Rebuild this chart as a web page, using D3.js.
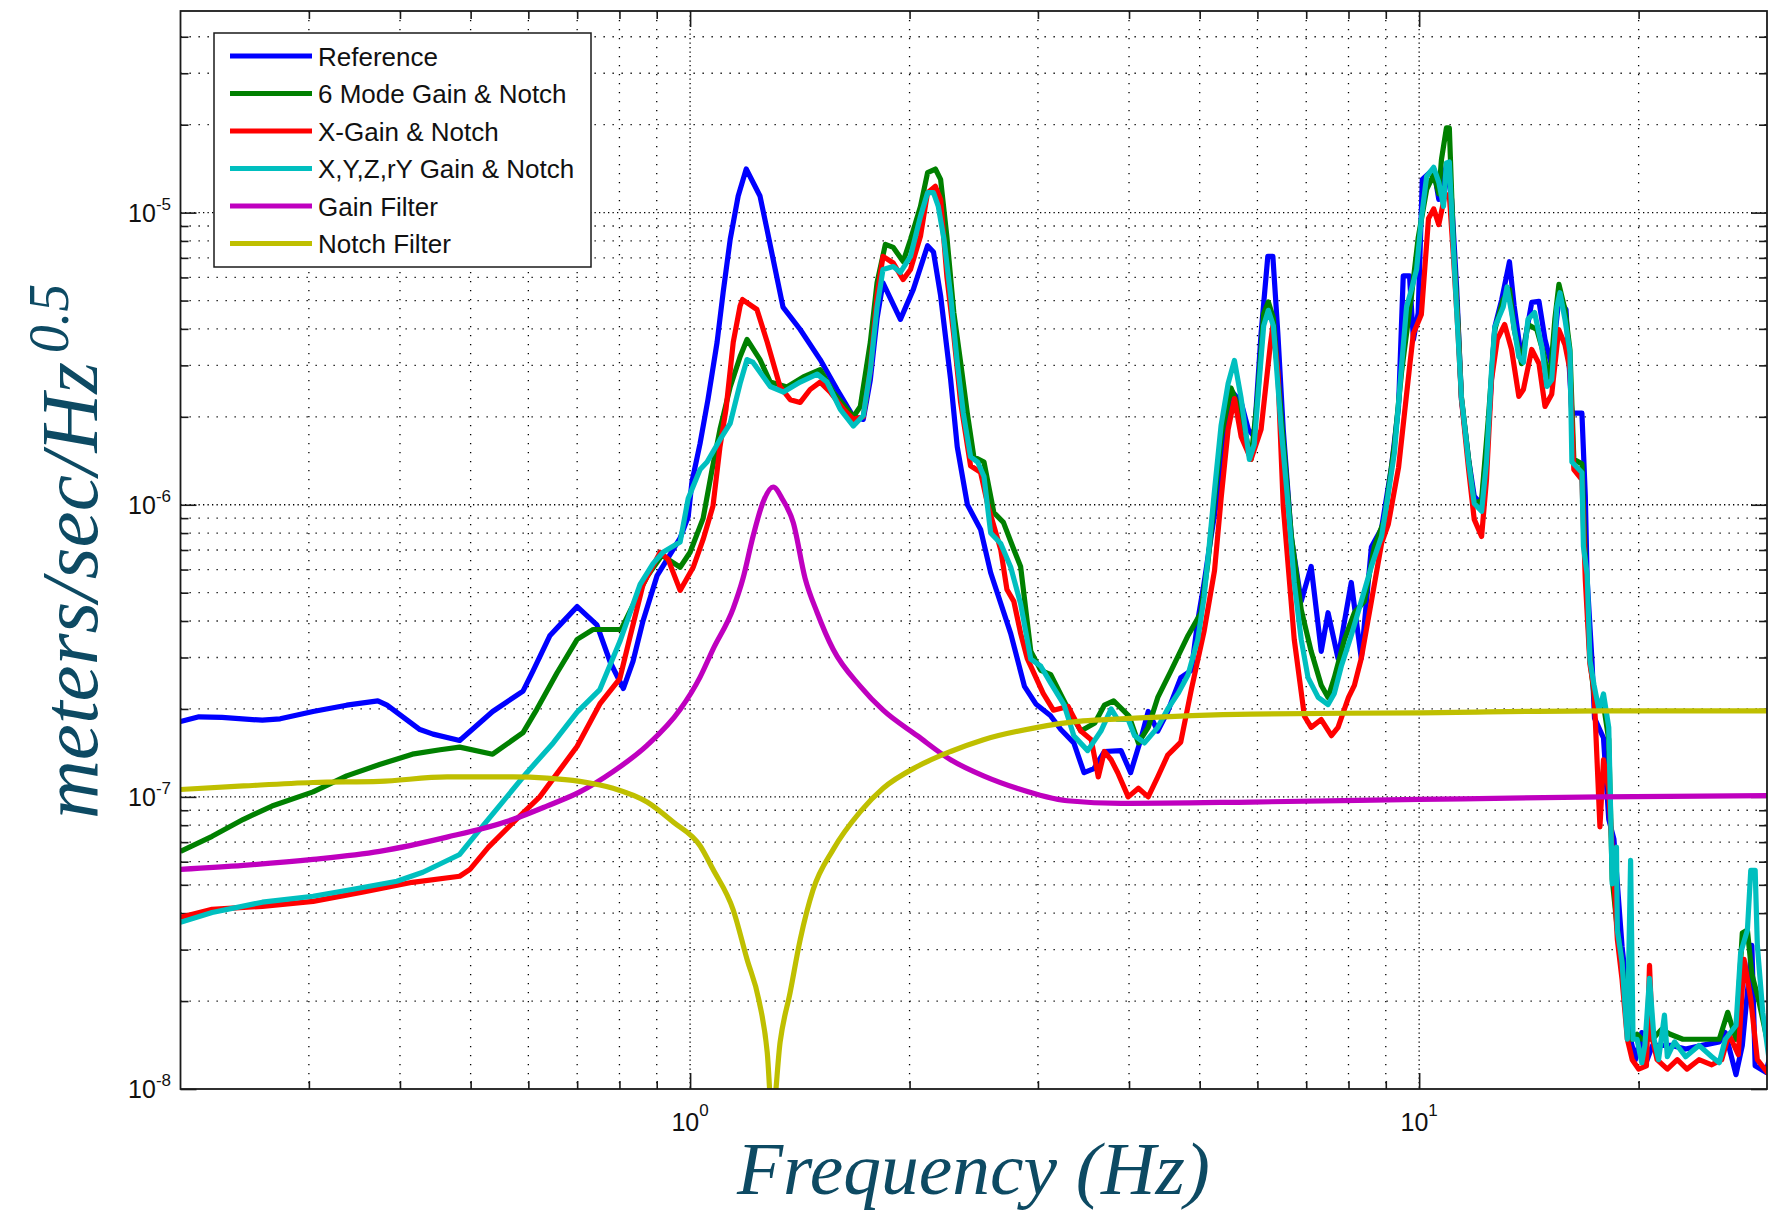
<!DOCTYPE html>
<html><head><meta charset="utf-8">
<script src="https://cdn.jsdelivr.net/npm/d3@7"></script>
<style>
body{margin:0;background:#fff}
.gmin{stroke:#000;stroke-width:1.3;stroke-dasharray:1.3 7.7;fill:none}
.gmaj{stroke:#000;stroke-width:1.3;stroke-dasharray:1.3 3.2;fill:none}
.tick{stroke:#1a1a1a;stroke-width:1.6}
.lbl{font-family:"Liberation Sans",Arial,sans-serif;fill:#111}
.ttl{font-family:"Liberation Serif","DejaVu Serif",serif;font-style:italic;fill:#0d4a63}
</style>
</head><body>
<svg id="chart" width="1768" height="1215"></svg>
<script>
// ---------- data ----------
const seriesNames = ["Reference","6 Mode Gain & Notch","X-Gain & Notch","X,Y,Z,rY Gain & Notch","Gain Filter","Notch Filter"];
const seriesColors = ["#0000ff","#008000","#ff0000","#00bfbf","#bf00bf","#bfbf00"];

const referenceData = [[0.2,1.81e-7],[0.212,1.88e-7],[0.228,1.87e-7],[0.259,1.83e-7],[0.274,1.85e-7],[0.304,1.96e-7],[0.338,2.06e-7],[0.373,2.13e-7],[0.384,2.06e-7],[0.426,1.70e-7],[0.444,1.64e-7],[0.483,1.56e-7],[0.536,1.96e-7],[0.590,2.30e-7],[0.609,2.70e-7],[0.642,3.56e-7],[0.663,3.88e-7],[0.700,4.48e-7],[0.745,3.88e-7],[0.777,2.89e-7],[0.810,2.35e-7],[0.835,2.91e-7],[0.862,4.01e-7],[0.901,5.72e-7],[0.930,6.50e-7],[0.969,7.69e-7],[0.994,9.1e-7],[1.006,1.20e-6],[1.032,1.62e-6],[1.058,2.29e-6],[1.089,3.60e-6],[1.110,5.33e-6],[1.135,8.09e-6],[1.164,1.14e-5],[1.194,1.41e-5],[1.247,1.14e-5],[1.275,8.75e-6],[1.341,4.75e-6],[1.416,3.98e-6],[1.508,3.14e-6],[1.591,2.48e-6],[1.675,2.00e-6],[1.728,1.96e-6],[1.767,2.68e-6],[1.805,4.35e-6],[1.839,5.75e-6],[1.943,4.31e-6],[2.024,5.46e-6],[2.117,7.70e-6],[2.157,7.33e-6],[2.206,5.20e-6],[2.277,2.68e-6],[2.325,1.58e-6],[2.401,1.0e-6],[2.503,8.23e-7],[2.584,5.85e-7],[2.753,3.62e-7],[2.875,2.39e-7],[2.98,2.08e-7],[3.12,1.90e-7],[3.225,1.70e-7],[3.36,1.53e-7],[3.47,1.21e-7],[3.58,1.25e-7],[3.70,1.43e-7],[3.90,1.44e-7],[4.02,1.21e-7],[4.15,1.57e-7],[4.25,1.96e-7],[4.38,1.68e-7],[4.52,1.96e-7],[4.71,2.56e-7],[4.87,2.71e-7],[4.97,4.01e-7],[5.07,5.40e-7],[5.18,7.69e-7],[5.30,1.11e-6],[5.41,1.81e-6],[5.52,2.46e-6],[5.70,2.24e-6],[5.83,1.81e-6],[5.94,1.71e-6],[6.07,3.86e-6],[6.20,7.08e-6],[6.30,7.08e-6],[6.40,3.86e-6],[6.51,1.81e-6],[6.68,7.69e-7],[6.89,4.67e-7],[7.11,6.15e-7],[7.34,3.15e-7],[7.50,4.27e-7],[7.74,2.98e-7],[8.07,5.42e-7],[8.33,2.98e-7],[8.60,7.17e-7],[8.88,8.30e-7],[9.16,1.34e-6],[9.37,2.17e-6],[9.51,6.07e-6],[9.70,6.07e-6],[9.82,3.68e-6],[9.97,4.53e-6],[10.1,1.30e-5],[10.47,1.41e-5],[10.64,1.11e-5],[10.9,1.45e-5],[11.08,1.11e-5],[11.26,5.46e-6],[11.43,2.29e-6],[11.69,1.43e-6],[11.9,1.07e-6],[12.18,1.0e-6],[12.44,1.81e-6],[12.7,4.06e-6],[12.98,5.04e-6],[13.3,6.79e-6],[13.5,4.79e-6],[13.82,3.14e-6],[14.27,4.93e-6],[14.6,4.97e-6],[14.88,3.68e-6],[15.2,2.98e-6],[15.54,5.04e-6],[15.9,4.66e-6],[16.2,2.06e-6],[16.72,2.06e-6],[16.9,1.07e-6],[17.0,5.55e-7],[17.26,2.93e-7],[17.4,1.86e-7],[17.9,1.59e-7],[18.2,8.38e-8],[18.5,7.16e-8],[18.7,5.04e-8],[18.98,3.08e-8],[19.2,2.37e-8],[19.4,1.56e-8],[19.8,1.26e-8],[20.2,1.56e-8],[20.4,1.20e-8],[20.9,1.41e-8],[22.2,1.41e-8],[23.2,1.37e-8],[24.45,1.41e-8],[25.8,1.45e-8],[26.3,1.56e-8],[27.2,1.12e-8],[27.75,1.41e-8],[28.6,3.1e-8],[28.9,1.2e-8],[29.9,1.14e-8],[30.2,1.26e-8]];

const sixModeData = [[0.2,6.51e-8],[0.221,7.33e-8],[0.244,8.38e-8],[0.267,9.3e-8],[0.304,1.04e-7],[0.338,1.18e-7],[0.375,1.29e-7],[0.416,1.40e-7],[0.454,1.45e-7],[0.483,1.48e-7],[0.536,1.40e-7],[0.590,1.66e-7],[0.616,1.99e-7],[0.657,2.66e-7],[0.700,3.46e-7],[0.736,3.74e-7],[0.804,3.74e-7],[0.846,4.85e-7],[0.873,5.68e-7],[0.915,6.71e-7],[0.969,6.11e-7],[1.0,6.88e-7],[1.042,8.98e-7],[1.07,1.29e-6],[1.099,1.81e-6],[1.135,2.53e-6],[1.171,3.21e-6],[1.197,3.68e-6],[1.247,3.14e-6],[1.288,2.63e-6],[1.358,2.53e-6],[1.43,2.74e-6],[1.508,2.90e-6],[1.571,2.43e-6],[1.675,2.00e-6],[1.712,2.17e-6],[1.767,3.60e-6],[1.805,5.76e-6],[1.853,7.79e-6],[1.90,7.60e-6],[1.96,6.80e-6],[2.006,8.09e-6],[2.07,1.05e-5],[2.117,1.37e-5],[2.17,1.41e-5],[2.206,1.30e-5],[2.25,8.28e-6],[2.30,4.55e-6],[2.35,3.07e-6],[2.40,2.06e-6],[2.45,1.46e-6],[2.53,1.40e-6],[2.61,9.4e-7],[2.69,8.7e-7],[2.78,7.03e-7],[2.84,6.15e-7],[2.933,3.15e-7],[3.027,2.71e-7],[3.124,2.62e-7],[3.30,2.0e-7],[3.435,1.68e-7],[3.59,1.79e-7],[3.70,2.06e-7],[3.81,2.13e-7],[4.0,1.89e-7],[4.12,1.53e-7],[4.25,1.73e-7],[4.38,2.19e-7],[4.57,2.71e-7],[4.82,3.57e-7],[5.02,4.27e-7],[5.13,6.30e-7],[5.24,1.05e-6],[5.35,1.71e-6],[5.52,2.51e-6],[5.70,2.05e-6],[5.88,1.43e-6],[6.0,2.31e-6],[6.12,4.51e-6],[6.21,4.95e-6],[6.31,4.36e-6],[6.47,1.99e-6],[6.68,7.79e-7],[6.89,4.38e-7],[7.11,3.15e-7],[7.34,2.41e-7],[7.50,2.19e-7],[7.65,2.56e-7],[7.90,3.46e-7],[8.15,4.27e-7],[8.41,4.67e-7],[8.68,7.17e-7],[8.96,8.9e-7],[9.25,1.61e-6],[9.46,2.85e-6],[9.76,5.2e-6],[9.97,8.2e-6],[10.24,1.20e-5],[10.47,1.35e-5],[10.64,1.16e-5],[10.73,1.52e-5],[10.9,1.95e-5],[11.0,1.95e-5],[11.15,7.48e-6],[11.3,4.31e-6],[11.43,2.33e-6],[11.69,1.43e-6],[11.9,1.0e-6],[12.18,1.04e-6],[12.44,1.96e-6],[12.7,3.98e-6],[13.04,5.04e-6],[13.3,5.46e-6],[13.5,3.98e-6],[13.82,3.04e-6],[14.1,4.14e-6],[14.5,3.98e-6],[14.83,3.26e-6],[15.1,2.58e-6],[15.35,4.31e-6],[15.55,5.68e-6],[15.85,4.66e-6],[16.1,3.40e-6],[16.3,1.43e-6],[16.72,1.38e-6],[16.9,6.50e-7],[17.15,2.96e-7],[17.4,2.16e-7],[17.9,2.07e-7],[18.2,1.57e-7],[18.4,5.22e-8],[18.7,3.52e-8],[18.98,2.71e-8],[19.3,1.6e-8],[19.6,1.48e-8],[19.9,1.54e-8],[20.2,1.48e-8],[20.9,1.48e-8],[21.5,1.6e-8],[22.1,1.54e-8],[23.0,1.48e-8],[24.2,1.48e-8],[25.2,1.48e-8],[25.8,1.48e-8],[26.5,1.83e-8],[27.2,1.48e-8],[27.75,3.42e-8],[28.2,3.50e-8],[28.6,2.47e-8],[29.2,2.03e-8],[30.2,1.37e-8]];

const xGainData = [[0.2,3.87e-8],[0.221,4.12e-8],[0.259,4.22e-8],[0.304,4.39e-8],[0.355,4.72e-8],[0.416,5.10e-8],[0.483,5.35e-8],[0.499,5.65e-8],[0.529,6.73e-8],[0.572,8.18e-8],[0.622,1.0e-7],[0.663,1.24e-7],[0.700,1.49e-7],[0.752,2.08e-7],[0.801,2.54e-7],[0.827,3.52e-7],[0.862,5.34e-7],[0.910,6.88e-7],[0.933,6.50e-7],[0.969,5.09e-7],[1.01,6.11e-7],[1.042,7.61e-7],[1.075,9.9e-7],[1.099,1.58e-6],[1.12,2.12e-6],[1.146,3.60e-6],[1.171,4.79e-6],[1.18,5.04e-6],[1.235,4.66e-6],[1.276,3.60e-6],[1.329,2.53e-6],[1.372,2.29e-6],[1.416,2.24e-6],[1.461,2.48e-6],[1.508,2.63e-6],[1.557,2.43e-6],[1.624,2.12e-6],[1.675,1.96e-6],[1.728,2.0e-6],[1.767,2.90e-6],[1.805,5.20e-6],[1.839,7.08e-6],[1.90,6.72e-6],[1.96,5.90e-6],[2.006,6.39e-6],[2.07,8.3e-6],[2.117,1.17e-5],[2.17,1.23e-5],[2.206,1.11e-5],[2.25,6.05e-6],[2.30,3.79e-6],[2.35,2.24e-6],[2.425,1.36e-6],[2.503,1.29e-6],[2.56,1.0e-6],[2.667,7.03e-7],[2.72,5.13e-7],[2.78,4.67e-7],[2.841,3.62e-7],[2.90,2.98e-7],[3.05,2.26e-7],[3.15,1.98e-7],[3.30,2.04e-7],[3.435,1.68e-7],[3.55,1.57e-7],[3.63,1.17e-7],[3.70,1.43e-7],[3.78,1.34e-7],[3.86,1.21e-7],[3.99,1.0e-7],[4.12,1.07e-7],[4.25,1.0e-7],[4.38,1.17e-7],[4.52,1.39e-7],[4.71,1.54e-7],[4.87,2.33e-7],[5.07,3.69e-7],[5.24,5.95e-7],[5.35,1.05e-6],[5.47,1.81e-6],[5.58,2.31e-6],[5.70,1.71e-6],[5.88,1.43e-6],[6.07,1.81e-6],[6.25,3.53e-6],[6.30,4.10e-6],[6.40,2.85e-6],[6.51,9.9e-7],[6.74,3.46e-7],[6.96,1.89e-7],[7.11,1.73e-7],[7.34,1.84e-7],[7.58,1.62e-7],[7.74,1.73e-7],[8.0,2.19e-7],[8.15,2.41e-7],[8.33,2.98e-7],[8.60,4.67e-7],[8.88,7.37e-7],[9.07,8.56e-7],[9.37,1.34e-6],[9.7,2.95e-6],[9.82,3.86e-6],[10.07,4.48e-6],[10.3,9.55e-6],[10.47,1.03e-5],[10.64,9.1e-6],[10.85,1.15e-5],[11.0,1.15e-5],[11.15,6.9e-6],[11.3,3.98e-6],[11.43,2.29e-6],[11.69,1.32e-6],[11.9,8.91e-7],[12.18,7.79e-7],[12.37,1.22e-6],[12.57,2.68e-6],[12.8,3.68e-6],[13.1,4.14e-6],[13.39,3.40e-6],[13.7,2.35e-6],[13.9,2.48e-6],[14.27,3.40e-6],[14.6,3.04e-6],[14.88,2.17e-6],[15.2,2.39e-6],[15.54,3.98e-6],[15.85,3.53e-6],[16.1,2.90e-6],[16.3,1.32e-6],[16.72,1.22e-6],[16.9,5.55e-7],[17.15,2.84e-7],[17.37,2.33e-7],[17.7,7.9e-8],[17.9,1.34e-7],[18.2,1.06e-7],[18.5,5.22e-8],[18.7,3.25e-8],[18.98,2.37e-8],[19.3,1.48e-8],[19.6,1.26e-8],[20.0,1.17e-8],[20.5,1.2e-8],[20.7,2.65e-8],[20.9,1.48e-8],[21.2,1.26e-8],[21.9,1.17e-8],[22.6,1.26e-8],[23.3,1.17e-8],[24.2,1.26e-8],[25.2,1.21e-8],[26.0,1.26e-8],[26.6,1.54e-8],[27.4,1.31e-8],[27.9,2.78e-8],[28.5,2.03e-8],[29.1,1.26e-8],[30.2,1.12e-8]];

const xyzData = [[0.2,3.72e-8],[0.221,4.02e-8],[0.259,4.36e-8],[0.304,4.57e-8],[0.345,4.83e-8],[0.396,5.14e-8],[0.430,5.52e-8],[0.483,6.35e-8],[0.515,7.74e-8],[0.553,9.6e-8],[0.597,1.21e-7],[0.649,1.53e-7],[0.700,1.95e-7],[0.752,2.33e-7],[0.801,3.40e-7],[0.854,5.34e-7],[0.890,6.30e-7],[0.918,6.88e-7],[0.969,7.45e-7],[0.994,1.05e-6],[1.032,1.32e-6],[1.055,1.40e-6],[1.099,1.67e-6],[1.135,1.90e-6],[1.171,2.60e-6],[1.197,3.14e-6],[1.220,3.07e-6],[1.288,2.54e-6],[1.343,2.43e-6],[1.416,2.63e-6],[1.494,2.80e-6],[1.541,2.63e-6],[1.607,2.12e-6],[1.675,1.86e-6],[1.728,2.02e-6],[1.767,2.90e-6],[1.805,4.75e-6],[1.839,6.39e-6],[1.90,6.54e-6],[1.943,6.24e-6],[2.006,7.08e-6],[2.070,9.7e-6],[2.117,1.17e-5],[2.157,1.17e-5],[2.19,1.05e-5],[2.23,8.09e-6],[2.277,5.20e-6],[2.325,3.07e-6],[2.37,2.06e-6],[2.425,1.46e-6],[2.48,1.40e-6],[2.53,1.25e-6],[2.584,8.0e-7],[2.667,7.37e-7],[2.753,6.11e-7],[2.841,4.57e-7],[2.933,2.96e-7],[3.027,2.80e-7],[3.124,2.45e-7],[3.26,2.06e-7],[3.36,1.62e-7],[3.51,1.44e-7],[3.66,1.68e-7],[3.78,2.0e-7],[3.86,1.84e-7],[3.99,1.84e-7],[4.07,1.62e-7],[4.20,1.53e-7],[4.38,1.73e-7],[4.52,2.0e-7],[4.67,2.26e-7],[4.82,2.62e-7],[4.97,3.46e-7],[5.07,4.82e-7],[5.15,7.14e-7],[5.24,1.12e-6],[5.35,1.87e-6],[5.47,2.60e-6],[5.58,3.12e-6],[5.70,2.31e-6],[5.85,1.43e-6],[5.94,1.61e-6],[6.02,2.46e-6],[6.12,4.10e-6],[6.21,4.63e-6],[6.31,4.10e-6],[6.47,1.81e-6],[6.61,1.0e-6],[6.74,5.42e-7],[6.89,3.46e-7],[7.04,2.56e-7],[7.27,2.19e-7],[7.50,2.07e-7],[7.65,2.26e-7],[7.82,2.80e-7],[8.07,3.57e-7],[8.33,4.67e-7],[8.60,6.15e-7],[8.88,7.79e-7],[9.07,1.09e-6],[9.25,1.51e-6],[9.46,2.99e-6],[9.61,4.75e-6],[9.76,5.46e-6],[9.92,6.39e-6],[10.07,9.55e-6],[10.24,1.33e-5],[10.47,1.43e-5],[10.64,1.27e-5],[10.8,1.05e-5],[10.9,1.48e-5],[11.0,1.49e-5],[11.15,7.31e-6],[11.26,4.59e-6],[11.43,2.33e-6],[11.69,1.40e-6],[11.9,1.01e-6],[12.18,9.5e-7],[12.37,1.40e-6],[12.57,2.90e-6],[12.7,4.06e-6],[13.04,4.75e-6],[13.2,5.57e-6],[13.39,4.55e-6],[13.7,3.21e-6],[13.9,3.07e-6],[14.1,4.31e-6],[14.4,4.55e-6],[14.73,3.47e-6],[14.97,2.54e-6],[15.2,2.68e-6],[15.45,4.75e-6],[15.6,5.32e-6],[15.85,4.31e-6],[16.1,3.32e-6],[16.2,1.40e-6],[16.72,1.29e-6],[16.8,7.2e-7],[17.0,5.77e-7],[17.15,2.93e-7],[17.37,2.42e-7],[17.65,1.98e-7],[17.9,2.25e-7],[18.2,1.73e-7],[18.4,5.04e-8],[18.65,6.73e-8],[18.7,3.50e-8],[18.98,2.71e-8],[19.2,1.79e-8],[19.3,1.48e-8],[19.5,6.06e-8],[19.65,1.48e-8],[19.9,1.48e-8],[20.2,1.23e-8],[20.4,1.41e-8],[20.7,2.39e-8],[21.0,1.48e-8],[21.3,1.26e-8],[21.7,1.79e-8],[21.9,1.29e-8],[22.4,1.45e-8],[23.2,1.29e-8],[24.2,1.41e-8],[25.2,1.29e-8],[25.8,1.23e-8],[26.3,1.48e-8],[27.2,1.65e-8],[27.6,2.92e-8],[28.2,3.50e-8],[28.5,5.6e-8],[28.9,5.6e-8],[29.1,3.1e-8],[29.6,1.83e-8],[30.2,1.26e-8]];

const gainFilterData = [[0.2,5.65e-8],[0.244,5.83e-8],[0.304,6.11e-8],[0.375,6.51e-8],[0.464,7.28e-8],[0.572,8.38e-8],[0.636,9.3e-8],[0.706,1.04e-7],[0.784,1.22e-7],[0.873,1.50e-7],[0.969,1.99e-7],[1.032,2.57e-7],[1.075,3.20e-7],[1.146,4.42e-7],[1.182,5.6e-7],[1.22,7.8e-7],[1.259,1.02e-6],[1.30,1.15e-6],[1.34,1.04e-6],[1.385,8.7e-7],[1.438,5.6e-7],[1.494,4.27e-7],[1.571,3.20e-7],[1.712,2.39e-7],[1.840,1.98e-7],[2.049,1.62e-7],[2.277,1.34e-7],[2.526,1.18e-7],[2.808,1.07e-7],[3.29,9.7e-8],[3.90,9.5e-8],[5.88,9.6e-8],[10.0,9.8e-8],[17.8,1.0e-7],[30.2,1.01e-7]];

const notchFilterData = [[0.2,1.06e-7],[0.244,1.09e-7],[0.304,1.12e-7],[0.375,1.13e-7],[0.464,1.17e-7],[0.572,1.17e-7],[0.636,1.16e-7],[0.706,1.13e-7],[0.784,1.07e-7],[0.873,9.6e-8],[0.948,8.2e-8],[1.032,6.8e-8],[1.075,5.65e-8],[1.146,4.1e-8],[1.197,2.78e-8],[1.243,2.01e-8],[1.276,1.33e-8],[1.296,8.0e-9],[1.329,1.45e-8],[1.372,2.15e-8],[1.416,3.25e-8],[1.474,4.79e-8],[1.571,6.6e-8],[1.712,8.9e-8],[1.840,1.07e-7],[2.049,1.27e-7],[2.277,1.43e-7],[2.526,1.57e-7],[2.96,1.72e-7],[3.46,1.82e-7],[3.90,1.85e-7],[5.88,1.92e-7],[10.0,1.94e-7],[17.8,1.97e-7],[30.2,1.97e-7]];

const xMajorTicks = [1, 10];
const xMajorExp = ["0", "1"];
const xMinorTicks = [0.3,0.4,0.5,0.6,0.7,0.8,0.9,2,3,4,5,6,7,8,9,20];
const yMajorTicks = [1e-8, 1e-7, 1e-6, 1e-5];
const yMajorExp = ["-8", "-7", "-6", "-5"];
const yMinorTicks = [2e-8,3e-8,4e-8,5e-8,6e-8,7e-8,8e-8,9e-8,2e-7,3e-7,4e-7,5e-7,6e-7,7e-7,8e-7,9e-7,2e-6,3e-6,4e-6,5e-6,6e-6,7e-6,8e-6,9e-6,2e-5,3e-5,4e-5];
const xTitle = "Frequency (Hz)";
const yTitle = "meters/sec/Hz";
const yTitleSup = "0.5";

// ---------- layout ----------
const P = {left:180.5, right:1767, top:11, bottom:1089};
const xScale = d3.scaleLog().domain([0.2, 30]).range([P.left, P.right]);
const yScale = d3.scaleLog().domain([1e-8, 4.9e-5]).range([P.bottom, P.top]);

const svg = d3.select("#chart");
svg.append("rect").attr("width",1768).attr("height",1215).attr("fill","#fff");
svg.append("rect").attr("x",P.left).attr("y",P.top).attr("width",P.right-P.left).attr("height",P.bottom-P.top).attr("fill","#fff");

// grid
const grid = svg.append("g");
xMinorTicks.forEach(f=>grid.append("line").attr("class","gmin").attr("x1",xScale(f)).attr("x2",xScale(f)).attr("y1",P.top).attr("y2",P.bottom));
xMajorTicks.forEach(f=>grid.append("line").attr("class","gmaj").attr("x1",xScale(f)).attr("x2",xScale(f)).attr("y1",P.top).attr("y2",P.bottom));
yMinorTicks.forEach(v=>grid.append("line").attr("class","gmin").attr("y1",yScale(v)).attr("y2",yScale(v)).attr("x1",P.left).attr("x2",P.right));
yMajorTicks.filter(v=>v>1e-8).forEach(v=>grid.append("line").attr("class","gmaj").attr("y1",yScale(v)).attr("y2",yScale(v)).attr("x1",P.left).attr("x2",P.right));

// ticks (inside, on all four sides)
function axisTicks(axisGen, vals, size, transform){
  const g = svg.append("g").attr("transform",transform)
    .call(axisGen.tickValues(vals).tickSize(size).tickFormat(""));
  g.select(".domain").remove();
  g.selectAll(".tick line").attr("class","tick");
  return g;
}
axisTicks(d3.axisBottom(xScale), xMajorTicks, -16, `translate(0,${P.bottom})`);
axisTicks(d3.axisBottom(xScale), xMinorTicks, -8, `translate(0,${P.bottom})`);
axisTicks(d3.axisTop(xScale), xMajorTicks, -16, `translate(0,${P.top})`);
axisTicks(d3.axisTop(xScale), xMinorTicks, -8, `translate(0,${P.top})`);
axisTicks(d3.axisLeft(yScale), yMajorTicks, -16, `translate(${P.left},0)`);
axisTicks(d3.axisLeft(yScale), yMinorTicks, -8, `translate(${P.left},0)`);
axisTicks(d3.axisRight(yScale), yMajorTicks, -16, `translate(${P.right},0)`);
axisTicks(d3.axisRight(yScale), yMinorTicks, -8, `translate(${P.right},0)`);

// data lines
svg.append("clipPath").attr("id","clip").append("rect")
  .attr("x",P.left).attr("y",P.top).attr("width",P.right-P.left).attr("height",P.bottom-P.top);
const line = d3.line().x(d=>xScale(d[0])).y(d=>yScale(d[1]));
const smooth = d3.line().x(d=>xScale(d[0])).y(d=>yScale(d[1])).curve(d3.curveMonotoneX);
const allSeries = [referenceData, sixModeData, xGainData, xyzData, gainFilterData, notchFilterData];
const lg = svg.append("g").attr("clip-path","url(#clip)");
allSeries.forEach((data,i)=>{
  lg.append("path").attr("d", (i>=4?smooth:line)(data))
    .attr("fill","none").attr("stroke",seriesColors[i]).attr("stroke-width",5.2)
    .attr("stroke-linejoin","round").attr("stroke-linecap","butt");
});

// axes box
svg.append("rect").attr("x",P.left).attr("y",P.top).attr("width",P.right-P.left).attr("height",P.bottom-P.top)
  .attr("fill","none").attr("stroke","#1a1a1a").attr("stroke-width",1.8);

// tick labels
xMajorTicks.forEach((f,i)=>{
  const t = svg.append("text").attr("class","lbl").attr("x",xScale(f)).attr("y",1131)
    .attr("text-anchor","middle").attr("font-size",25);
  t.append("tspan").text("10");
  t.append("tspan").attr("font-size",17).attr("dy",-15).text(xMajorExp[i]);
});
yMajorTicks.forEach((v,i)=>{
  const y = yScale(v);
  const t = svg.append("text").attr("class","lbl").attr("x",171).attr("y",y+9)
    .attr("text-anchor","end").attr("font-size",25);
  t.append("tspan").text("10");
  t.append("tspan").attr("font-size",17).attr("dy",-12).text(yMajorExp[i]);
});

// axis titles
svg.append("text").attr("class","ttl").attr("x",737).attr("y",1194)
  .attr("font-size",74).attr("textLength",473).attr("lengthAdjust","spacingAndGlyphs").text(xTitle);
svg.append("text").attr("class","ttl").attr("transform","translate(97,819) rotate(-90)")
  .attr("font-size",80).attr("textLength",457).attr("lengthAdjust","spacingAndGlyphs").text(yTitle);
svg.append("text").attr("class","ttl").attr("transform","translate(68,353) rotate(-90)")
  .attr("font-size",56).attr("textLength",69).attr("lengthAdjust","spacingAndGlyphs").text(yTitleSup);

// legend
const L = {x:214, y:33, w:377, h:234};
const leg = svg.append("g");
leg.append("rect").attr("x",L.x).attr("y",L.y).attr("width",L.w).attr("height",L.h)
  .attr("fill","#fff").attr("stroke","#1a1a1a").attr("stroke-width",1.5);
seriesNames.forEach((name,i)=>{
  const cy = 56 + i*37.5;
  leg.append("line").attr("x1",230).attr("x2",312).attr("y1",cy).attr("y2",cy)
    .attr("stroke",seriesColors[i]).attr("stroke-width",5);
  leg.append("text").attr("class","lbl").attr("x",318).attr("y",cy+9.5)
    .attr("font-size",26).text(name);
});
</script>
</body></html>
